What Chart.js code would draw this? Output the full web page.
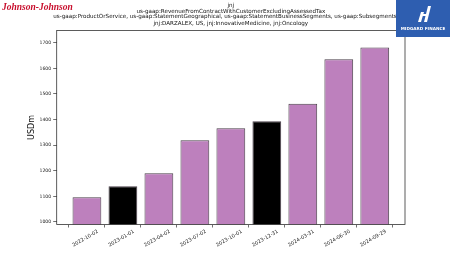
<!DOCTYPE html>
<html><head><meta charset="utf-8">
<script src="https://cdn.jsdelivr.net/npm/chart.js@4.4.0/dist/chart.umd.min.js"></script>
<style>html,body{margin:0;padding:0;background:#fff;}#wrap{width:450px;height:253px;position:relative;}</style>
</head><body><div id="wrap"><canvas id="c" width="450" height="253"></canvas></div>
<script>
const categories = ["2022-10-02","2023-01-01","2023-04-02","2023-07-02","2023-10-01","2023-12-31","2024-03-31","2024-06-30","2024-09-29"];
const revenue = [1096, 1139, 1190, 1319, 1366, 1393, 1462, 1636, 1682];
const highlighted = [false, true, false, false, false, true, false, false, false];
const yTicks = [1000, 1100, 1200, 1300, 1400, 1500, 1600, 1700];
const titleLines = ["jnj","us-gaap:RevenueFromContractWithCustomerExcludingAssessedTax","us-gaap:ProductOrService, us-gaap:StatementGeographical, us-gaap:StatementBusinessSegments, us-gaap:SubsegmentsAxis","jnj:DARZALEX, US, jnj:InnovativeMedicine, jnj:Oncology"];
const yLabel = "USDm";

const PURPLE = "#bd80bd";
const FONT = "'DejaVu Sans', sans-serif";

const decor = {
  id: 'decor',
  afterDraw(chart) {
    const ctx = chart.ctx;
    const a = chart.chartArea;
    ctx.save();
    // frame
    ctx.strokeStyle = '#333';
    ctx.lineWidth = 0.8;
    ctx.strokeRect(a.left, a.top, a.right - a.left, a.bottom - a.top);
    // title
    ctx.fillStyle = '#111';
    ctx.font = "5.6px " + FONT;
    ctx.textAlign = 'center';
    ctx.textBaseline = 'middle';
    const cx = (a.left + a.right) / 2;
    const ys = [5.5, 11.2, 16.2, 23.8];
    titleLines.forEach((t, i) => ctx.fillText(t, cx, ys[i]));
    // J&J logo
    ctx.fillStyle = '#c8102e';
    ctx.font = "italic bold 9.5px 'Liberation Serif', serif";
    ctx.textAlign = 'left';
    ctx.fillText('Johnson\u2010Johnson', 2, 7.5);
    // Midgard logo
    ctx.fillStyle = '#2e5eb0';
    ctx.fillRect(396, 0, 54, 37);
    ctx.fillStyle = '#fff';
    ctx.beginPath();
    ctx.moveTo(418, 22); ctx.lineTo(421, 12); ctx.lineTo(424, 12); ctx.lineTo(421, 22); ctx.closePath(); ctx.fill();
    ctx.beginPath();
    ctx.moveTo(424, 22); ctx.lineTo(428, 6); ctx.lineTo(431, 6); ctx.lineTo(427, 22); ctx.closePath(); ctx.fill();
    ctx.fillRect(422, 14, 6, 2);
    ctx.font = "bold 4.2px " + FONT;
    ctx.textAlign = 'center';
    ctx.fillText('MIDGARD FINANCE', 423, 28.5);
    ctx.restore();
  }
};

new Chart(document.getElementById('c'), {
  type: 'bar',
  data: {
    datasets: [{
      data: revenue.map((v, i) => ({x: i, y: v})),
      backgroundColor: highlighted.map(h => h ? '#000' : PURPLE),
      borderColor: '#4a3f4a',
      borderWidth: 1,
      categoryPercentage: 1,
      barPercentage: 0.8,
      base: 0
    }]
  },
  options: {
    responsive: false,
    animation: false,
    events: [],
    layout: {padding: {top: 30.5, right: 45, left: 0, bottom: 0}},
    plugins: {legend: {display: false}, title: {display: false}, tooltip: {enabled: false}},
    scales: {
      x: {
        type: 'linear',
        min: -0.84, max: 8.84,
        offset: false,
        grid: {drawOnChartArea: false, drawTicks: true, tickLength: 3, color: '#333', tickWidth: 0.7},
        border: {display: false},
        afterBuildTicks(scale) { scale.ticks = categories.map((c, i) => ({value: i})); },
        afterFit(scale) { scale.height = 28.5; },
        ticks: {
          callback: (v) => categories[v],
          maxRotation: 30, minRotation: 30,
          autoSkip: false,
          labelOffset: 11,
          padding: 1,
          font: {size: 5, family: FONT},
          color: '#222'
        }
      },
      y: {
        min: 990, max: 1748,
        grid: {drawOnChartArea: false, tickLength: 3.5, color: '#333', tickWidth: 0.7},
        border: {display: false},
        afterBuildTicks(scale) { scale.ticks = yTicks.map(v => ({value: v})); },
        afterFit(scale) { scale.width = 56.7; },
        ticks: {callback: (v) => String(v), font: {size: 4.6, family: FONT}, color: '#222', padding: 2},
        title: {display: true, text: yLabel, font: {size: 8, family: FONT}, color: '#111', padding: {top: 27, bottom: 0}}
      }
    }
  },
  plugins: [decor]
});
</script></body></html>
